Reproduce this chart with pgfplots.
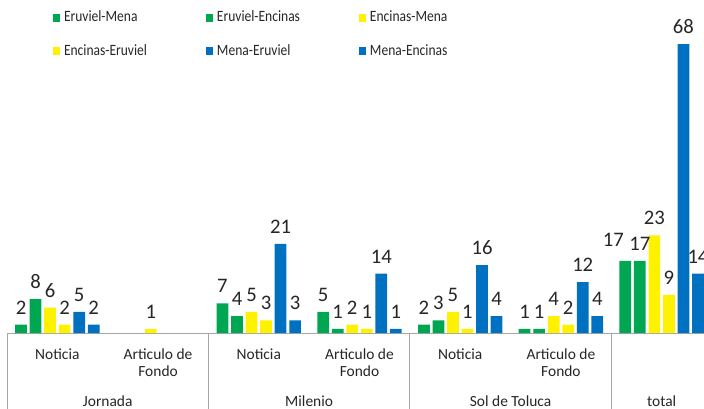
\documentclass[border=0pt]{standalone}
\usepackage{pgfplots}
\pgfplotsset{compat=1.18}
\usepackage{fontspec}
\setmainfont{Carlito}
\newfontfamily\legfont[FakeStretch=0.86]{Carlito}
\definecolor{cgreen}{RGB}{0,166,81}
\definecolor{cyellow}{RGB}{255,242,0}
\definecolor{cblue}{RGB}{0,112,192}
\definecolor{ctext}{RGB}{38,38,38}
\definecolor{cline}{RGB}{166,166,166}
\begin{document}
\begin{tikzpicture}
\useasboundingbox (0,0) rectangle (528pt,306pt);
\begin{axis}[
  at={(5.25pt,56.25pt)}, anchor=south west,
  scale only axis, width=528.75pt, height=223.125pt,
  xmin=-0.5, xmax=6.5, ymin=0, ymax=70,
  axis x line*=bottom, axis y line=none,
  axis line style={cline, line width=0.75pt},
  ybar=2.1pt, bar width=8.8pt,
  xtick={0,...,5},
  xticklabels={Noticia, Articulo de, Noticia, Articulo de, Noticia, Articulo de},
  major tick length=0pt,
  xticklabel style={font=\fontsize{11.6pt}{13.5pt}\selectfont, text=ctext, anchor=base, inner sep=0pt, yshift=-19.5pt},
  nodes near coords,
  every node near coord/.append style={font=\fontsize{15.5pt}{18pt}\selectfont, text=ctext, inner sep=0pt, yshift=7.5pt},
  /pgf/number format/assume math mode=true,
  clip=false,
  legend columns=3,
  legend cell align=left,
  legend style={at={(0.06525,1.0866)}, anchor=north west, draw=none, fill=none, inner sep=0pt, outer sep=0pt, column sep=3pt, row sep=13pt, font=\legfont\fontsize{11.8pt}{13.5pt}\selectfont, text=ctext, nodes={inner sep=0pt, text height=9pt, text depth=3pt}},
  legend image code/.code={\fill[#1] (0pt,-3pt) rectangle (5.25pt,3pt);},
]
\addplot[fill=cgreen, draw=none, coordinate style/.condition={x==6}{xshift=-9pt, yshift=3pt}] coordinates {(0,2)(2,7)(3,5)(4,2)(5,1)(6,17)};
\addlegendentry{\makebox[103.5pt][l]{Eruviel-Mena}}
\addplot[fill=cgreen, draw=none] coordinates {(0,8)(2,4)(3,1)(4,3)(5,1)(6,17)};
\addlegendentry{\makebox[103.5pt][l]{Eruviel-Encinas}}
\addplot[fill=cyellow, draw=none] coordinates {(0,6)(1,1)(2,5)(3,2)(4,5)(5,4)(6,23)};
\addlegendentry{\makebox[103.5pt][l]{Encinas-Mena}}
\addplot[fill=cyellow, draw=none] coordinates {(0,2)(2,3)(3,1)(4,1)(5,2)(6,9)};
\addlegendentry{\makebox[103.5pt][l]{Encinas-Eruviel}}
\addplot[fill=cblue, draw=none] coordinates {(0,5)(2,21)(3,14)(4,16)(5,12)(6,68)};
\addlegendentry{\makebox[103.5pt][l]{Mena-Eruviel}}
\addplot[fill=cblue, draw=none] coordinates {(0,2)(2,3)(3,1)(4,4)(5,4)(6,14)};
\addlegendentry{\makebox[103.5pt][l]{Mena-Encinas}}

\begin{scope}[font=\fontsize{11.6pt}{13.5pt}\selectfont, text=ctext]
\node[anchor=base] at (axis cs:1,-10.2) {Fondo};
\node[anchor=base] at (axis cs:3,-10.2) {Fondo};
\node[anchor=base] at (axis cs:5,-10.2) {Fondo};
\node[anchor=base] at (axis cs:0.5,-17.2) {Jornada};
\node[anchor=base] at (axis cs:2.5,-17.2) {Milenio};
\node[anchor=base] at (axis cs:4.5,-17.2) {Sol de Toluca};
\node[anchor=base] at (axis cs:6,-17.2) {total};
\end{scope}
\draw[cline, line width=0.75pt] (axis cs:-0.5,0) -- (axis cs:-0.5,-20);
\draw[cline, line width=0.75pt] (axis cs:1.5,0) -- (axis cs:1.5,-20);
\draw[cline, line width=0.75pt] (axis cs:3.5,0) -- (axis cs:3.5,-20);
\draw[cline, line width=0.75pt] (axis cs:5.5,0) -- (axis cs:5.5,-20);
\end{axis}
\end{tikzpicture}
\end{document}
